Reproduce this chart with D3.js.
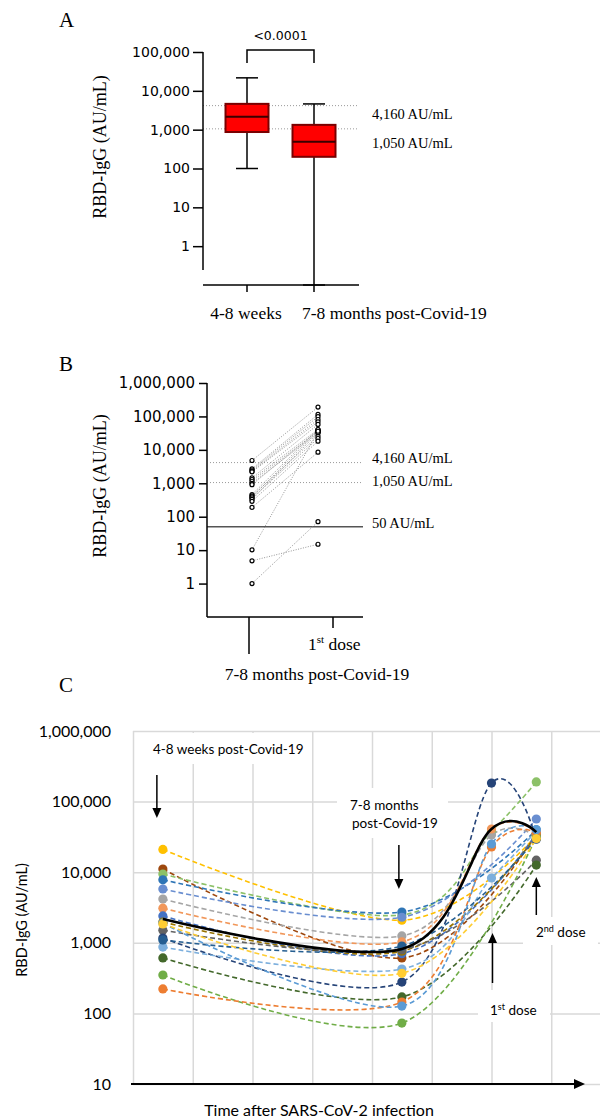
<!DOCTYPE html>
<html>
<head>
<meta charset="utf-8">
<script src="https://cdn.jsdelivr.net/npm/d3@7"></script>
<style>
  body { margin: 0; background: #fff; }
  svg { display: block; }
  .serif { font-family: "Liberation Serif", "Times New Roman", serif; }
  .sans { font-family: "DejaVu Sans", sans-serif; }
  .cal { font-family: Lato, "Open Sans", sans-serif; }
</style>
</head>
<body>
<svg id="chart" width="600" height="1119"></svg>
<script>
// ---- panel A: box plots
var boxGroups = ['4-8 weeks', '7-8 months post-Covid-19']
var boxMin = [100, 0.1]
var boxQ1 = [870, 200]
var boxMedian = [2140, 485]
var boxQ3 = [4620, 1330]
var boxMax = [21600, 4600]
var pValue = '<0.0001'
var cutoffs = [4160, 1050]
var cutoffLabels = ['4,160 AU/mL', '1,050 AU/mL']
var ticksA = [1, 10, 100, 1000, 10000, 100000]

// ---- panel B: paired before / after 1st dose
var pairGroups = ['7-8 months', '1st dose']
var before = [4800, 2700, 2500, 2300, 2200, 1450, 1300, 1150, 1000, 910, 460, 420, 390, 363, 330, 288, 190, 10.2, 4.8, 1.0]
var after = [190000, 115000, 98000, 81000, 69000, 57600, 40700, 36000, 32400, 38000, 40700, 25700, 36000, 21900, 32400, 18200, 8500, 36000, 15, 71]
var floorLine = 50
var floorLabel = '50 AU/mL'
var ticksB = [1, 10, 100, 1000, 10000, 100000, 1000000]

// ---- panel C: individual kinetics
var timePoints = [0.5, 4.5, 6, 6.75]
var seriesColors = ['#FFC000', '#9E480E', '#8CC168', '#2E75B6', '#698ED0', '#A5A5A5', '#F1975A', '#4472C4', '#997300',
  '#636363', '#264478', '#7CAFDD', '#43682B', '#70AD47', '#ED7D31', '#255E91', '#5B9BD5', '#FFCD33']
var atWeeks = [21000, 11100, 9400, 7800, 5780, 4170, 3090, 2400, 1970, 1510, 1170, 870, 610, 350, 222, 1100, 1900, 1850]
var atMonths = [2090, 610, 2480, 2730, 2300, 1250, 1030, 700, 760, 800, 278, 425, 171, 73, 145, 900, 127, 370]
var atDose1 = [null, null, 38000, null, null, 33600, 40900, null, null, null, 183000, 8280, null, null, 22800, null, 25100, null]
var atDose2 = [33000, 35000, 190000, 39800, 56700, 31700, 36000, 35000, 33000, 14800, 29400, 38000, 12600, 32000, 36000, 30000, 40000, 30000]
var meanCurve = [2170, 820, 41000, 37000]
var ticksC = [10, 100, 1000, 10000, 100000, 1000000]

var svg = d3.select('#chart')
var fmt = d3.format(',')
var SERIF = '"Liberation Serif", "Times New Roman", serif'

function serifText(g, size) {
  return g.append('text').attr('class', 'serif').attr('font-family', SERIF).attr('font-size', size)
}

function panelLabel(txt, y) {
  serifText(svg, 21).attr('x', 59).attr('y', y).text(txt)
}
panelLabel('A', 27)
panelLabel('B', 371)
panelLabel('C', 692)

function styleAxis(g, size, family) {
  g.attr('font-size', size).attr('font-family', family)
  g.selectAll('line').attr('stroke', '#000').attr('stroke-width', 1.5)
  g.selectAll('text').attr('fill', '#000')
}

// ================= A
var yA = d3.scaleLog().domain([0.1, 100000]).range([285, 52])
var xA = d3.scalePoint().domain(boxGroups).range([247, 314])
var gA = svg.append('g')

gA.selectAll('.cut').data(cutoffs).join('line')
  .attr('x1', 203).attr('x2', 359)
  .attr('y1', function(d){ return yA(d) }).attr('y2', function(d){ return yA(d) })
  .attr('stroke', '#999').attr('stroke-width', 1).attr('stroke-dasharray', '1,2')
cutoffLabels.forEach(function(d, i) {
  serifText(gA, 14.5).attr('x', 372).attr('y', yA(cutoffs[i]) + [13, 19][i]).text(d)
})

boxGroups.forEach(function(g, i) {
  var cx = xA(g), w = 43, cap = 22
  gA.append('line').attr('x1', cx).attr('x2', cx).attr('y1', yA(boxMax[i])).attr('y2', yA(boxMin[i]))
    .attr('stroke', '#000').attr('stroke-width', 1.5)
  gA.append('line').attr('x1', cx - cap / 2).attr('x2', cx + cap / 2).attr('y1', yA(boxMax[i])).attr('y2', yA(boxMax[i]))
    .attr('stroke', '#000').attr('stroke-width', 1.5)
  gA.append('line').attr('x1', cx - cap / 2).attr('x2', cx + cap / 2).attr('y1', yA(boxMin[i])).attr('y2', yA(boxMin[i]))
    .attr('stroke', '#000').attr('stroke-width', 1.5)
  gA.append('rect').attr('x', cx - w / 2).attr('width', w)
    .attr('y', yA(boxQ3[i])).attr('height', yA(boxQ1[i]) - yA(boxQ3[i]))
    .attr('fill', '#ff0000').attr('stroke', '#7a0000').attr('stroke-width', 2)
  gA.append('line').attr('x1', cx - w / 2).attr('x2', cx + w / 2).attr('y1', yA(boxMedian[i])).attr('y2', yA(boxMedian[i]))
    .attr('stroke', '#3a0000').attr('stroke-width', 2)
})

// significance bracket
gA.append('path')
  .attr('d', 'M' + xA(boxGroups[0]) + ',63V50H' + xA(boxGroups[1]) + 'V63')
  .attr('fill', 'none').attr('stroke', '#000').attr('stroke-width', 1.5)
gA.append('text').attr('class', 'sans').attr('font-size', 12.5).attr('text-anchor', 'middle')
  .attr('x', (xA(boxGroups[0]) + xA(boxGroups[1])) / 2).attr('y', 40).text(pValue)

var axA = gA.append('g').attr('transform', 'translate(203,0)')
  .call(d3.axisLeft(yA).tickValues(ticksA).tickFormat(fmt).tickSize(10).tickSizeOuter(0).tickPadding(3))
axA.select('.domain').remove()
styleAxis(axA, 14, 'DejaVu Sans')
gA.append('line').attr('x1', 203).attr('x2', 203).attr('y1', 52).attr('y2', 270).attr('stroke', '#000').attr('stroke-width', 1.5)
gA.append('line').attr('x1', 203).attr('x2', 359).attr('y1', 285).attr('y2', 285).attr('stroke', '#000').attr('stroke-width', 1.5)
gA.selectAll('.xt').data(boxGroups).join('line')
  .attr('x1', function(d){ return xA(d) }).attr('x2', function(d){ return xA(d) })
  .attr('y1', 285).attr('y2', 292).attr('stroke', '#000').attr('stroke-width', 1.5)
serifText(gA, 17.5).attr('text-anchor', 'middle').attr('x', xA(boxGroups[0]) - 1).attr('y', 319).text(boxGroups[0])
serifText(gA, 17.5).attr('x', xA(boxGroups[1]) - 12).attr('y', 319).text(boxGroups[1])
serifText(gA, 18).attr('text-anchor', 'middle')
  .attr('transform', 'translate(106,147)rotate(-90)').text('RBD-IgG (AU/mL)')

// ================= B
var yB = d3.scaleLog().domain([0.1, 1000000]).range([617, 383])
var xB = d3.scalePoint().domain(pairGroups).range([252, 318])
var gB = svg.append('g')

gB.selectAll('.cut').data(cutoffs).join('line')
  .attr('x1', 210).attr('x2', 363)
  .attr('y1', function(d){ return yB(d) }).attr('y2', function(d){ return yB(d) })
  .attr('stroke', '#999').attr('stroke-width', 1).attr('stroke-dasharray', '1,2')
gB.append('line').attr('x1', 207).attr('x2', 363).attr('y1', yB(floorLine)).attr('y2', yB(floorLine))
  .attr('stroke', '#555').attr('stroke-width', 1.5)
cutoffLabels.concat([floorLabel]).forEach(function(d, i) {
  serifText(gB, 14.5).attr('x', 372).attr('y', yB(cutoffs.concat([floorLine])[i]) + [0, 3, 1][i]).text(d)
})

var pairs = before.map(function(b, i){ return [b, after[i]] })
gB.selectAll('.pair').data(pairs).join('line')
  .attr('x1', xB(pairGroups[0])).attr('x2', xB(pairGroups[1]))
  .attr('y1', function(d){ return yB(d[0]) }).attr('y2', function(d){ return yB(d[1]) })
  .attr('stroke', '#8a8a8a').attr('stroke-width', 0.9).attr('stroke-dasharray', '1,1.5')
pairGroups.forEach(function(g, k) {
  gB.selectAll('.pt' + k).data(pairs).join('circle')
    .attr('cx', xB(g)).attr('cy', function(d){ return yB(d[k]) }).attr('r', 2)
    .attr('fill', '#fff').attr('stroke', '#000').attr('stroke-width', 1.2)
})

var axB = gB.append('g').attr('transform', 'translate(207,0)')
  .call(d3.axisLeft(yB).tickValues(ticksB).tickFormat(fmt).tickSize(8).tickSizeOuter(0).tickPadding(4))
axB.select('.domain').remove()
styleAxis(axB, 15, 'DejaVu Sans')
gB.append('line').attr('x1', 207).attr('x2', 207).attr('y1', 383).attr('y2', 617).attr('stroke', '#000').attr('stroke-width', 1.5)
gB.append('line').attr('x1', 207).attr('x2', 363).attr('y1', 617).attr('y2', 617).attr('stroke', '#000').attr('stroke-width', 1.5)
gB.append('line').attr('x1', xB(pairGroups[0]) - 3).attr('x2', xB(pairGroups[0]) - 3).attr('y1', 617).attr('y2', 654)
  .attr('stroke', '#000').attr('stroke-width', 1.5)
gB.append('line').attr('x1', xB(pairGroups[1]) + 15).attr('x2', xB(pairGroups[1]) + 15).attr('y1', 617).attr('y2', 628)
  .attr('stroke', '#000').attr('stroke-width', 1.5)
var doseB = serifText(gB, 17.5).attr('x', xB(pairGroups[1]) - 10).attr('y', 650)
doseB.append('tspan').text('1')
doseB.append('tspan').attr('font-size', 11).attr('dy', -7).text('st')
doseB.append('tspan').attr('dy', 7).text(' dose')
serifText(gB, 17.5).attr('text-anchor', 'middle').attr('x', 317).attr('y', 680).text('7-8 months post-Covid-19')
serifText(gB, 18).attr('text-anchor', 'middle')
  .attr('transform', 'translate(106,486)rotate(-90)').text('RBD-IgG (AU/mL)')

// ================= C
var yC = d3.scaleLog().domain([10, 1000000]).range([1084, 731])
var xC = d3.scaleLinear().domain([0, 8]).range([133, 611])
var gC = svg.append('g')

var gridY = gC.append('g').attr('transform', 'translate(133,0)')
  .call(d3.axisLeft(yC).tickValues(ticksC).tickFormat(fmt).tickSize(-478).tickPadding(22))
gridY.select('.domain').remove()
gridY.attr('font-size', 16).attr('font-family', 'Lato')
gridY.selectAll('line').attr('stroke', '#d9d9d9').attr('stroke-width', 1.5)
gridY.selectAll('text').attr('fill', '#000')
var gridX = gC.append('g').attr('transform', 'translate(0,1084)')
  .call(d3.axisBottom(xC).tickValues(d3.range(0, 9)).tickFormat('').tickSize(-(1084 - 731)))
gridX.select('.domain').remove()
gridX.selectAll('line').attr('stroke', '#d9d9d9').attr('stroke-width', 1.5)

// white label boxes hide the grid behind them
var boxes = [[140, 733, 170, 31], [337, 788, 111, 50], [523, 917, 75, 28], [478, 990, 72, 32]]
gC.selectAll('.lbox').data(boxes).join('rect')
  .attr('x', function(d){ return d[0] }).attr('y', function(d){ return d[1] })
  .attr('width', function(d){ return d[2] }).attr('height', function(d){ return d[3] })
  .attr('fill', '#fff')

var line = d3.line()
  .defined(function(d){ return d.v != null })
  .x(function(d){ return xC(d.t) }).y(function(d){ return yC(d.v) })
  .curve(d3.curveCardinal)

var series = seriesColors.map(function(c, i) {
  var vals = [atWeeks[i], atMonths[i], atDose1[i], atDose2[i]]
  return { color: c, pts: vals.map(function(v, k){ return { t: timePoints[k], v: v } }).filter(function(p){ return p.v != null }) }
})

gC.selectAll('.ser').data(series).join('path')
  .attr('d', function(d){ return line(d.pts) })
  .attr('fill', 'none').attr('stroke', function(d){ return d.color })
  .attr('stroke-width', 1.6).attr('stroke-dasharray', '5,3')
series.forEach(function(s) {
  gC.selectAll(null).data(s.pts).join('circle')
    .attr('cx', function(d){ return xC(d.t) }).attr('cy', function(d){ return yC(d.v) })
    .attr('r', 4.6).attr('fill', s.color)
})
gC.append('path')
  .attr('d', line(meanCurve.map(function(v, k){ return { t: timePoints[k], v: v } })))
  .attr('fill', 'none').attr('stroke', '#000').attr('stroke-width', 2.6)

// x axis arrow
gC.append('line').attr('x1', 131).attr('x2', 576).attr('y1', 1084).attr('y2', 1084).attr('stroke', '#000').attr('stroke-width', 2)
gC.append('path').attr('d', 'M574,1079L585,1084L574,1089Z').attr('fill', '#000')

function arrow(x, yFrom, yTip) {
  var dir = yTip > yFrom ? 1 : -1
  gC.append('line').attr('x1', x).attr('x2', x).attr('y1', yFrom).attr('y2', yTip - dir * 8)
    .attr('stroke', '#000').attr('stroke-width', 1.5)
  gC.append('path').attr('d', 'M' + (x - 4.5) + ',' + (yTip - dir * 10) + 'L' + x + ',' + yTip + 'L' + (x + 4.5) + ',' + (yTip - dir * 10) + 'Z')
    .attr('fill', '#000')
}
arrow(xC(timePoints[0]) - 6, 775, 818)
arrow(xC(timePoints[1]) - 3, 845, 889)
arrow(xC(timePoints[2]) + 1, 983, 933)
arrow(xC(timePoints[3]), 915, 877)

gC.append('text').attr('class', 'cal').attr('font-size', 13.5).attr('x', 153).attr('y', 754).text('4-8 weeks post-Covid-19')
gC.append('text').attr('class', 'cal').attr('font-size', 13.5).attr('x', 350).attr('y', 810).text('7-8 months')
gC.append('text').attr('class', 'cal').attr('font-size', 13.5).attr('x', 352).attr('y', 828).text('post-Covid-19')
function doseLabel(x, y, n, sup) {
  var t = gC.append('text').attr('class', 'cal').attr('font-size', 13.5).attr('x', x).attr('y', y)
  t.append('tspan').text(n)
  t.append('tspan').attr('font-size', 9).attr('dy', -5).text(sup)
  t.append('tspan').attr('dy', 5).text(' dose')
}
doseLabel(490, 1015, '1', 'st')
doseLabel(536, 937, '2', 'nd')

gC.append('text').attr('class', 'cal').attr('font-size', 16).attr('text-anchor', 'middle')
  .attr('x', 319).attr('y', 1116).text('Time after SARS-CoV-2 infection')
gC.append('text').attr('class', 'cal').attr('font-size', 14.5).attr('text-anchor', 'middle')
  .attr('transform', 'translate(27,920)rotate(-90)').text('RBD-IgG (AU/mL)')
</script>
</body>
</html>
